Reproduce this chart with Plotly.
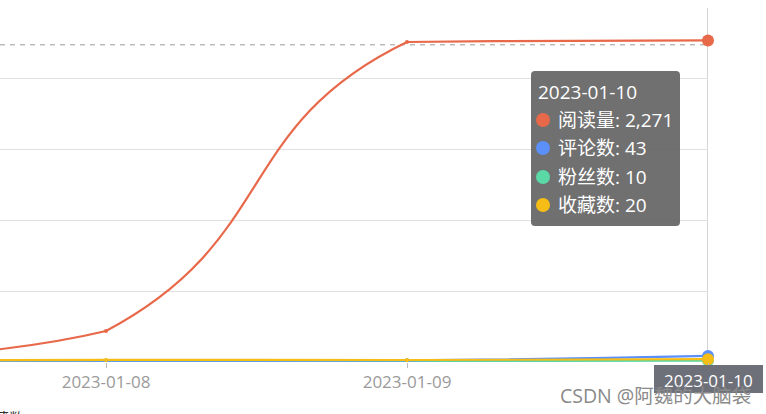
import plotly.graph_objects as go

dates = ["2023-01-07", "2023-01-08", "2023-01-09", "2023-01-10"]
reads = [5, 219, 2260, 2271]
comments = [8, 10, 12, 43]
fans = [3, 5, 6, 10]
favorites = [10, 15, 14, 20]
series_names = ["阅读量", "评论数", "粉丝数", "收藏数"]
colors = ["#E8684A", "#5B8FF9", "#5AD8A6", "#F6BD16"]
y_ticks = [0, 500, 1000, 1500, 2000, 2500]
hover_idx = 3
pointer_value = 2240

W, H = 766, 414
L, R, T, B = 0, 708, 8, 362  # plot area in pixels
X_STEP_PX = 301.0
Y_MAX = 2500.0


def px(x):
    return (x - L) / (R - L)


def py(y):
    return (B - y) / (B - T)


xs = list(range(len(dates)))
all_series = [reads, comments, fans, favorites]
order = [2, 1, 3, 0]


def smooth_path(xv, yv, smooth=0.5):
    """Bezier path in data coords, control points derived from the data the way
    echarts' smoothed line does (with bounding-box constraint)."""
    sx = X_STEP_PX
    sy = (B - T) / Y_MAX
    P = [(x * sx, y * sy) for x, y in zip(xv, yv)]
    mnx, mxx = min(p[0] for p in P), max(p[0] for p in P)
    mny, mxy = min(p[1] for p in P), max(p[1] for p in P)

    def clamp(p):
        return (min(max(p[0], mnx), mxx), min(max(p[1], mny), mxy))

    n = len(P)
    cin = [None] * n
    cout = [None] * n
    cout[0] = P[0]
    cin[n - 1] = P[n - 1]
    for i in range(1, n - 1):
        pr, p, nx = P[i - 1], P[i], P[i + 1]
        vx, vy = (nx[0] - pr[0]) * smooth, (nx[1] - pr[1]) * smooth
        d0 = ((p[0] - pr[0]) ** 2 + (p[1] - pr[1]) ** 2) ** 0.5
        d1 = ((p[0] - nx[0]) ** 2 + (p[1] - nx[1]) ** 2) ** 0.5
        s = d0 + d1
        if s:
            d0, d1 = d0 / s, d1 / s
        cin[i] = clamp((p[0] - vx * d0, p[1] - vy * d0))
        cout[i] = clamp((p[0] + vx * d1, p[1] + vy * d1))

    def D(pt):
        return f"{pt[0] / sx:.5f},{pt[1] / sy:.4f}"

    path = f"M {D(P[0])}"
    for i in range(n - 1):
        path += f" C {D(cout[i])} {D(cin[i + 1])} {D(P[i + 1])}"
    return path


shapes = []
# axis pointer lines
shapes.append(dict(type="line", xref="x", yref="paper", x0=xs[hover_idx], x1=xs[hover_idx],
                   y0=0, y1=1, line=dict(color="#aaaaaa", width=1), layer="between"))
shapes.append(dict(type="line", xref="paper", yref="y", x0=0, x1=1,
                   y0=pointer_value, y1=pointer_value,
                   line=dict(color="#999999", width=1, dash="5px,5px"), layer="between"))
# smoothed series lines
for i in order:
    shapes.append(dict(type="path", xref="x", yref="y", path=smooth_path(xs, all_series[i]),
                       line=dict(color=colors[i], width=2.2), layer="between"))

fig = go.Figure()
for i in order:
    fig.add_trace(go.Scatter(
        x=xs, y=all_series[i], name=series_names[i], mode="markers",
        marker=dict(size=4, color=colors[i]),
        showlegend=False, hoverinfo="skip", cliponaxis=True,
    ))
for i in order:
    fig.add_trace(go.Scatter(
        x=[xs[hover_idx]], y=[all_series[i][hover_idx]], mode="markers",
        marker=dict(size=12, color=colors[i]), showlegend=False,
        hoverinfo="skip", cliponaxis=False,
    ))


def rrect(x0, y0, x1, y1, r):
    def P(x, y):
        return f"{px(x):.5f},{py(y):.5f}"
    return (f"M {P(x0 + r, y0)} L {P(x1 - r, y0)} Q {P(x1, y0)} {P(x1, y0 + r)} "
            f"L {P(x1, y1 - r)} Q {P(x1, y1)} {P(x1 - r, y1)} L {P(x0 + r, y1)} "
            f"Q {P(x0, y1)} {P(x0, y1 - r)} L {P(x0, y0 + r)} Q {P(x0, y0)} {P(x0 + r, y0)} Z")


shapes.append(dict(type="path", xref="paper", yref="paper", path=rrect(531, 71, 680, 226, 4),
                   fillcolor="rgba(100,100,100,0.92)", line=dict(width=0), layer="above"))
shapes.append(dict(type="rect", xref="paper", yref="paper", x0=px(654), x1=px(763),
                   y0=py(393), y1=py(365), fillcolor="#6E7079", line=dict(width=0), layer="above"))

font_f = "Open Sans, Noto Sans CJK SC, sans-serif"
annotations = []
annotations.append(dict(xref="paper", yref="paper", x=px(536), y=py(92), xanchor="left", yanchor="middle",
                        text=dates[hover_idx], showarrow=False, font=dict(color="white", size=19, family=font_f)))
row_y = [120, 148, 177, 205]
vals = [reads[hover_idx], comments[hover_idx], fans[hover_idx], favorites[hover_idx]]
for k in range(4):
    shapes.append(dict(type="circle", xref="paper", yref="paper",
                       x0=px(536), x1=px(550), y0=py(row_y[k] + 7), y1=py(row_y[k] - 7),
                       fillcolor=colors[k], line=dict(width=0), layer="above"))
    annotations.append(dict(xref="paper", yref="paper", x=px(556), y=py(row_y[k]), xanchor="left", yanchor="middle",
                            text=f"{series_names[k]}: {vals[k]:,}", showarrow=False,
                            font=dict(color="white", size=19, family=font_f)))
annotations.append(dict(xref="paper", yref="paper", x=px(708.5), y=py(380), xanchor="center", yanchor="middle",
                        text=dates[hover_idx], showarrow=False, font=dict(color="white", size=17, family=font_f)))
annotations.append(dict(xref="paper", yref="paper", x=px(753), y=py(395), xanchor="right", yanchor="middle",
                        text="CSDN @阿魏的大脑袋", showarrow=False, font=dict(color="#8a8a8a", size=19.5, family=font_f)))
annotations.append(dict(xref="paper", yref="paper", x=px(26), y=py(418), xanchor="right", yanchor="middle",
                        text="收藏数", showarrow=False, font=dict(color="#333333", size=15, family=font_f)))

x_lo = 1 - (106 - L) / X_STEP_PX
fig.update_layout(
    width=W, height=H,
    margin=dict(l=L, r=W - R, t=T, b=H - B, pad=0),
    paper_bgcolor="white", plot_bgcolor="white",
    shapes=shapes, annotations=annotations,
    xaxis=dict(range=[x_lo, xs[-1]], tickvals=xs, ticktext=dates, showgrid=False,
               zeroline=False, showline=False, ticks="outside", ticklen=5, tickcolor="#bbbbbb",
               tickfont=dict(color="#9a9a9a", size=17, family=font_f)),
    yaxis=dict(range=[0, Y_MAX], tickvals=y_ticks, showticklabels=False, showgrid=True,
               gridcolor="#e0e0e0", gridwidth=1, zeroline=False, showline=False),
    hovermode=False,
)
fig.write_html("out.html", config={"displayModeBar": False},
               post_script="document.body.style.margin='0';document.body.style.overflow='hidden';")
